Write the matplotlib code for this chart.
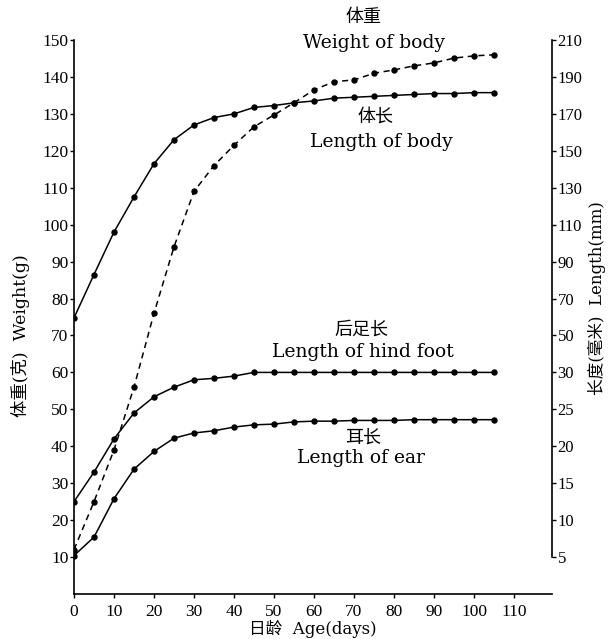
import numpy as np
import matplotlib
matplotlib.use("Agg")
import matplotlib.pyplot as plt

plt.rcParams['font.family'] = ['Liberation Serif', 'Noto Sans CJK SC', 'DejaVu Sans']

# ---- data ----
age_days = [0, 5, 10, 15, 20, 25, 30, 35, 40, 45, 50, 55, 60, 65, 70, 75, 80, 85, 90, 95, 100, 105]
body_weight_g = [12, 25, 39, 56, 76, 94, 109, 116, 121.5, 126.5, 129.7, 133, 136.5, 138.7, 139.2,
                 141, 141.9, 143, 143.8, 145.1, 145.7, 146]
body_length_mm = [59.5, 83, 106, 125, 143, 156, 164, 168, 170, 173.5, 174.5, 176, 177, 178.5, 179,
                  179.5, 180, 180.5, 181, 181, 181.5, 181.5]
hind_foot_mm = [12.5, 16.5, 21, 24.5, 26.7, 28, 29, 29.2, 29.5, 30, 30, 30, 30, 30, 30,
                30, 30, 30, 30, 30, 30, 30]
ear_mm = [5.2, 7.7, 12.9, 16.9, 19.3, 21.1, 21.8, 22.1, 22.6, 22.9, 23, 23.3, 23.4, 23.4, 23.5,
          23.5, 23.5, 23.6, 23.6, 23.6, 23.6, 23.6]

x_ticks = [0, 10, 20, 30, 40, 50, 60, 70, 80, 90, 100, 110]
weight_ticks = [10, 20, 30, 40, 50, 60, 70, 80, 90, 100, 110, 120, 130, 140, 150]
length_ticks = [5, 10, 15, 20, 25, 30, 50, 70, 90, 110, 130, 150, 170, 190, 210]


# piecewise length axis (mm -> weight-axis units)
def mm_to_units(r):
    r = np.asarray(r, dtype=float)
    return np.where(r <= 30, 2 * r, (r + 90) / 2)


def units_to_mm(u):
    u = np.asarray(u, dtype=float)
    return np.where(u <= 60, u / 2, 2 * u - 90)


fig = plt.figure(figsize=(6.13, 6.39), dpi=100)
ax = fig.add_axes([0.1207, 0.0704, 0.7798, 0.867])
ax2 = ax.twinx()
ax2.set_yscale('function', functions=(mm_to_units, units_to_mm))

lw = 1.1
ms = 3.6
ax.plot(age_days, body_weight_g, color='black', lw=lw, linestyle=(0, (4, 3)),
        marker='o', ms=ms, zorder=3)
ax2.plot(age_days, body_length_mm, color='black', lw=lw, marker='o', ms=ms)
ax2.plot(age_days, hind_foot_mm, color='black', lw=lw, marker='o', ms=ms)
ax2.plot(age_days, ear_mm, color='black', lw=lw, marker='o', ms=ms)

ax.set_xlim(0, 119.5)
ax.set_ylim(0, 150)
ax2.set_ylim(0, 210)

ax.set_xticks(x_ticks)
ax.set_xticklabels([str(v) for v in x_ticks])
ax.set_yticks(weight_ticks)
ax.set_yticklabels([str(v) for v in weight_ticks])
ax2.set_yticks(length_ticks)
ax2.set_yticklabels([str(v) for v in length_ticks])
ax2.yaxis.set_minor_locator(matplotlib.ticker.NullLocator())

ax.tick_params(labelsize=12.5, length=3, width=1, direction='out', pad=1)
ax2.tick_params(labelsize=12, length=3, width=1, direction='out', pad=1)
ax.tick_params(axis='x', pad=4)

ax.spines['top'].set_visible(False)
ax.spines['right'].set_visible(False)
for s in ('top', 'left', 'bottom'):
    ax2.spines[s].set_visible(False)
ax2.spines['right'].set_bounds(5, 210)
for s in ax.spines.values():
    s.set_linewidth(1.2)
ax2.spines['right'].set_linewidth(1.2)

lab_family = ['DejaVu Serif', 'Noto Sans CJK SC']
ax.set_ylabel('体重(克)  Weight(g)', fontsize=12.5, family=lab_family)
ax2.set_ylabel('长度(毫米)  Length(mm)', fontsize=12, family=lab_family)
ax.yaxis.set_label_coords(-0.093, 0.466)
ax2.yaxis.set_label_coords(1.075, 0.534)
ax.set_xlabel('日龄  Age(days)', fontsize=12, family=lab_family)
ax.xaxis.set_label_coords(0.5, -0.046)

# curve labels
en = dict(ha='center', va='center', transform=fig.transFigure, fontsize=13.5,
          family=['DejaVu Serif', 'Noto Sans CJK SC'])
cn = dict(ha='center', va='center', transform=fig.transFigure, fontsize=13,
          family=['Noto Sans CJK SC'])


def px(x, y):
    return x / 613, 1 - y / 639


ax.text(*px(363, 17), '体重', **cn)
ax.text(*px(374, 43), 'Weight of body', **en)
ax.text(*px(375, 117), '体长', **cn)
ax.text(*px(381, 142), 'Length of body', **en)
ax.text(*px(361, 330), '后足长', **cn)
ax.text(*px(363, 352), 'Length of hind foot', **en)
ax.text(*px(363, 438), '耳长', **cn)
ax.text(*px(361, 458), 'Length of ear', **en)

fig.savefig('out.png', dpi=100)
